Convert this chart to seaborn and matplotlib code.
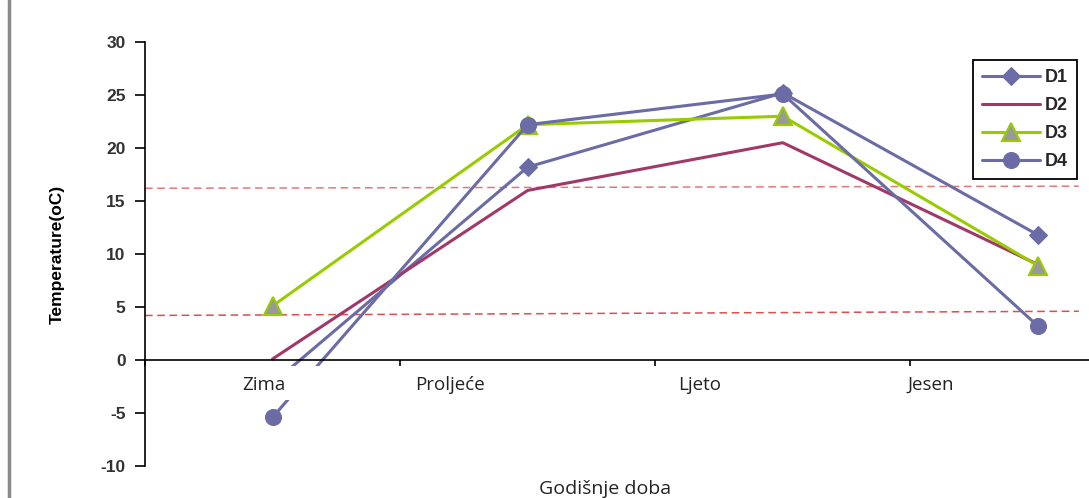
import numpy as np
import pandas as pd
import matplotlib
matplotlib.use('Agg')
import matplotlib.pyplot as plt
import seaborn as sns

# values
seasons = ['Zima', 'Proljeće', 'Ljeto', 'Jesen']
d1 = [-2.2, 18.2, 25.2, 11.8]
d2 = [0.1, 16.0, 20.5, 9.0]
d3 = [5.1, 22.2, 23.0, 8.9]
d4 = [-5.4, 22.2, 25.1, 3.2]
ref_upper = [16.2, 16.4]
ref_lower = [4.2, 4.6]
y_ticks = [-10, -5, 0, 5, 10, 15, 20, 25, 30]

sns.set_style('ticks')
plt.rcParams['font.family'] = ['Liberation Sans', 'DejaVu Sans']
plt.rcParams['axes.unicode_minus'] = False

fig = plt.figure(figsize=(10.89, 4.98), dpi=100)
ax = fig.add_axes([145 / 1089, 1 - 466 / 498, 944 / 1089, 424 / 498])

slate = '#6B6BA6'
series = [
    ('D1', d1, dict(color=slate, marker='D', markersize=9.5, markerfacecolor=slate, markeredgecolor=slate)),
    ('D2', d2, dict(color='#A03868', marker=None)),
    ('D3', d3, dict(color='#99CC00', marker='^', markersize=12.5, markerfacecolor='#999999',
                    markeredgecolor='#99CC00', markeredgewidth=1.5)),
    ('D4', d4, dict(color=slate, marker='o', markersize=11.5, markerfacecolor=slate, markeredgecolor=slate)),
]

for name, vals, kw in series:
    sns.lineplot(x=seasons, y=vals, ax=ax, label=name, linewidth=2.2, sort=False, zorder=2, **kw)

# white band behind the category labels (hides lines, like the original)
ax.axhspan(-3.77, -0.57, color='white', zorder=3, lw=0)

# dashed reference lines
ax.plot([-0.5, 3.16], ref_upper, ls=(0, (5, 3)), color='#E07A7A', lw=1.1, zorder=1)
ax.plot([-0.5, 3.16], ref_lower, ls=(0, (5, 3)), color='#D85050', lw=1.1, zorder=1)

ax.set_xlim(-0.5, 3.20)
ax.set_ylim(-10, 30)
ax.set_yticks(y_ticks)
ax.set_xticks([-0.5, 0.5, 1.5, 2.5])
ax.set_xticklabels([])

ax.spines['top'].set_visible(False)
ax.spines['right'].set_visible(False)
ax.spines['bottom'].set_position(('data', 0))
for s in ['left', 'bottom']:
    ax.spines[s].set_linewidth(1.2)
    ax.spines[s].set_color('black')
    ax.spines[s].set_zorder(5)

ax.tick_params(axis='y', direction='out', length=7, width=1.2, labelsize=12.5, pad=7,
               colors='black', labelcolor='#333333')
ax.tick_params(axis='x', direction='out', length=5, width=1.2, colors='black')
for t in ax.get_yticklabels():
    t.set_fontweight('bold')

ax.set_ylabel('Temperature(oC)', fontweight='bold', fontsize=12.5, labelpad=26, color='black')
ax.set_xlabel('')

label_x = [-0.035, 0.694, 1.675, 2.58]
for lx, lab in zip(label_x, seasons):
    ax.text(lx, -2.36, lab, ha='center', va='center', fontsize=13.5,
            family=['Open Sans', 'DejaVu Sans'], color='#222222', zorder=4)

fig.text(605 / 1089, 1 - 489 / 498, 'Godišnje doba', ha='center', va='center',
         fontsize=14, family=['Open Sans', 'DejaVu Sans'], color='#222222')

leg = ax.legend(loc='upper left', bbox_to_anchor=(0.877, 0.958), frameon=True, fancybox=False,
                edgecolor='black', framealpha=1, prop={'weight': 'bold', 'size': 13},
                handlelength=3.2, labelspacing=0.62, borderpad=0.5, handletextpad=0.3,
                borderaxespad=0)
leg.get_frame().set_linewidth(1.3)

# grey frame edge on the left of the picture
fig.add_artist(plt.Line2D([9 / 1089, 9 / 1089], [0, 1], transform=fig.transFigure,
                          color='#8a8a8a', lw=2.5))

fig.savefig('out.png', dpi=100)
